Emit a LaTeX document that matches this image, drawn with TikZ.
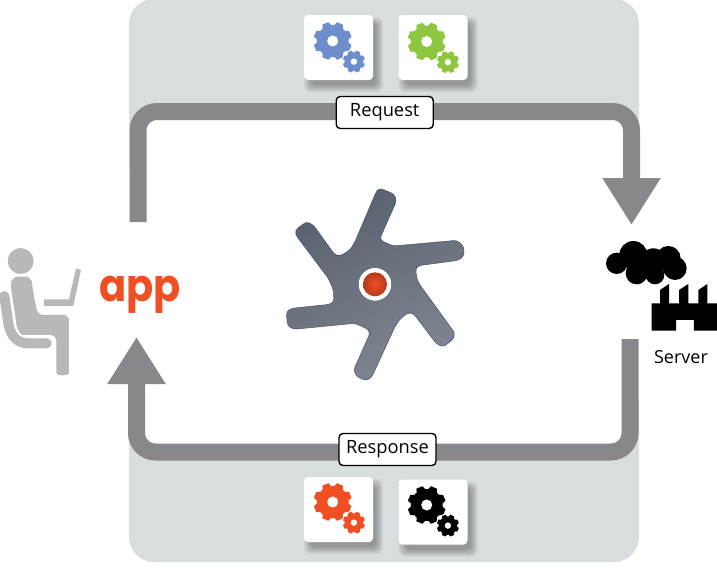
\documentclass[tikz,border=0pt]{standalone}
\usepackage{fontspec}
\setmainfont{Open Sans}
\newfontfamily\appfont{Poppins}
\usetikzlibrary{arrows.meta}
\definecolor{panelgrey}{HTML}{D8DDE0}
\definecolor{bandgrey}{HTML}{87888C}
\definecolor{persongrey}{HTML}{B8B8B8}
\definecolor{gearblue}{HTML}{6D8ECB}
\definecolor{geargreen}{HTML}{8DC63F}
\definecolor{gearred}{HTML}{F04E23}
\definecolor{staredge}{HTML}{46536B}
\definecolor{startop}{HTML}{5A616E}
\definecolor{starbot}{HTML}{7F8792}
\tikzset{
  flow/.style={draw=bandgrey,line width=17pt,rounded corners=19pt,
    -{Triangle[length=47pt,width=55pt,color=bandgrey]}},
  label box/.style={draw=black,line width=1.4pt,fill=white,rounded corners=4pt,
    minimum height=32pt,inner sep=0pt,font=\fontsize{18.3}{20}\selectfont},
  card/.style={fill=white,rounded corners=4pt,minimum width=69pt,minimum height=65pt,inner sep=0pt},
  gearwheel/.pic={
    \foreach \a in {0,45,...,315}{
      \fill[rotate=\a+22.5,pic actions] (-.28,.7)--(-.17,1)--(.17,1)--(.28,.7)--cycle;
    }
    \fill[pic actions] (0,0) circle (.84);
    \fill[white] (0,0) circle (.29);
  }
}
\newcommand{\cardwith}[6]{% name, card x,y, gear colour, big x,y
  \foreach \s in {7,6,5,4,3,2,1,0}{
    \fill[black,opacity=.045,rounded corners=6pt]
      (#2-34.5+7-\s,#3-32.5+9-\s) rectangle (#2+34.5+3+\s,#3+32.5+5+\s);
  }
  \node[card] (#1) at (#2,#3) {};
  \pic[#4,scale=19] at (#5,#6) {gearwheel};
  \fill[white] (#5+21.2,#6+20.6) circle (12.2);
  \pic[#4,scale=11] at (#5+21.2,#6+20.6) {gearwheel};
}
\begin{document}
\begin{tikzpicture}[x=1pt,y=-1pt]
\useasboundingbox (0,0) rectangle (717,570);
% panel
\fill[panelgrey,rounded corners=25pt] (129,-1) rectangle (639,562);
\fill[white,rounded corners=19pt] (138,111.5) rectangle (630,452);
\fill[white] (128,170) rectangle (640,400);
% cards
\cardwith{cardblue}{338.5}{47.5}{gearblue}{332.7}{41}
\cardwith{cardgreen}{433}{47.5}{geargreen}{426.7}{41.5}
\cardwith{cardred}{338.5}{509.5}{gearred}{332.7}{502}
\cardwith{cardblack}{433}{512}{black}{426.7}{505}
% end points of the two flows
\coordinate (reqfrom) at (138,222);
\coordinate (reqtop) at (385,111.5);
\coordinate (reqto) at (631.5,225);
\coordinate (resfrom) at (630,339);
\coordinate (resbot) at (385,452);
\coordinate (resto) at (136.5,337);
\draw[flow] (reqfrom) |- (reqtop) -| (reqto);
\draw[flow] (resfrom) |- (resbot) -| (resto);
\node[label box,minimum width=97pt] (request) at (384.7,112.5) {Request};
\node[label box,minimum width=97pt] (response) at (387.5,449.5) {Response};
% star
\begin{scope}[shift={(280,170)},x=.3333pt,y=-.3333pt]
\shade[draw=staredge,line width=.5pt,top color=startop,bottom color=starbot,shading angle=25,rounded corners=3pt]
 (303,56)--(342,72)--(350,92)--(300,205)--(305,213)--(340,228)--(530,211)--(551,228)--(552,258)--(535,271)
 --(415,287)--(407,295)--(410,325)--(420,345)--(525,490)--(520,507)--(490,531)--(470,522)--(400,430)
 --(385,428)--(360,447)--(345,470)--(275,622)--(258,632)--(230,620)--(221,600)--(270,490)--(265,478)
 --(225,460)--(40,478)--(22,466)--(19,425)--(35,415)--(150,403)--(162,395)--(160,360)--(145,325)
 --(47,195)--(48,178)--(80,155)--(100,165)--(165,255)--(180,258)--(210,240)--(225,215)--(290,62)--cycle;
\end{scope}
\fill[white,draw=staredge,line width=.4pt] (375,284.3) circle (16.7);
\shade[inner color=gearred,outer color=gearred!75!black] (375,284.3) circle (12);
% person
\begin{scope}[shift={(0,230)},x=.3333pt,y=-.3333pt]
\fill[persongrey] (62,93) circle (39);
\fill[persongrey,rounded corners=6pt]
 (33,175) .. controls (33,150) and (48,140) .. (65,140) .. controls (82,140) and (95,150) .. (97,172)
 --(113,255)--(180,255) .. controls (197,255) and (207,267) .. (207,285)
 --(207,412) .. controls (207,438) and (169,438) .. (169,412)
 --(169,315)--(85,315) .. controls (62,315) and (50,295) .. (47,265)--cycle;
\draw[persongrey,line width=10pt,line cap=round]
 (13,198)--(25,280) .. controls (32,322) and (55,340) .. (85,340)--(140,340);
\fill[persongrey] (228,115)--(243,120)--(220,228)--(132,228)--(132,208)--(207,208)--cycle;
\end{scope}
% app
\node[text=gearred,inner sep=0pt,font=\appfont\bfseries\fontsize{40}{44}\selectfont] (app) at (140,295) {\scalebox{1}[1.12]{app}};
% server
\begin{scope}[shift={(590,170)},x=.3333pt,y=-.3333pt]
\fill[black] (80,280) circle (32) (130,255) circle (42) (190,275) circle (40) (235,265) circle (37)
 (255,295) circle (35) (140,310) circle (33) (195,315) circle (28);
\fill[black] (210,400)--(210,360)--(237,342)--(237,400)--(267,400)--(267,360)--(295,342)--(295,400)
 --(325,400)--(325,360)--(352,342)--(352,400)--(381,400)--(381,482)--(312,482)--(312,450)--(258,450)
 --(258,482)--(185,482)--(185,400)--cycle;
\end{scope}
\node[inner sep=0pt,font=\fontsize{18}{20}\selectfont] (server) at (681,357) {Server};
\end{tikzpicture}
\end{document}
